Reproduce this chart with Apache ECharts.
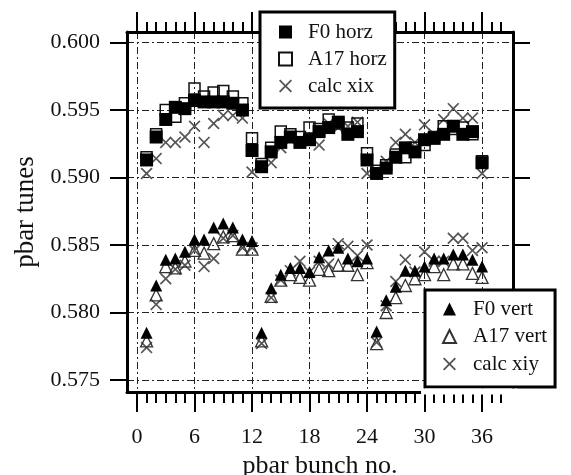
<!DOCTYPE html>
<html><head><meta charset="utf-8">
<script src="https://cdn.jsdelivr.net/npm/echarts@6/dist/echarts.min.js"></script>
<style>html,body{margin:0;padding:0;background:#fff}#c{width:571px;height:475px}</style>
</head><body><div id="c"></div>
<script>
const bunches = [1,2,3,4,5,6,7,8,9,10,11,12,13,14,15,16,17,18,19,20,21,22,23,24,25,26,27,28,29,30,31,32,33,34,35,36];
const f0Horz = [0.5913,0.5930,0.5943,0.5952,0.5951,0.5957,0.5956,0.5956,0.5956,0.5955,0.5950,0.5920,
                0.5908,0.5919,0.5926,0.5930,0.5926,0.5928,0.5934,0.5937,0.5941,0.5932,0.5934,0.5913,
                0.5903,0.5907,0.5915,0.5922,0.5919,0.5928,0.5929,0.5932,0.5938,0.5932,0.5934,0.5911];
const a17Horz = [0.5915,0.5932,0.5950,0.5945,0.5955,0.5966,0.5960,0.5963,0.5964,0.5960,0.5955,0.5929,
                 0.5910,0.5922,0.5934,0.5932,0.5930,0.5937,0.5936,0.5943,0.5940,0.5937,0.5940,0.5918,
                 0.5905,0.5909,0.5917,0.5915,0.5922,0.5924,0.5930,0.5938,0.5936,0.5937,0.5932,0.5912];
const calcXix = [0.5903,0.5914,0.5926,0.5926,0.5930,0.5938,0.5926,0.5940,0.5946,0.5946,0.5944,0.5904,
                 0.5908,0.5911,0.5922,0.5928,0.5927,0.5930,0.5924,0.5940,0.5937,0.5938,0.5941,0.5903,
                 0.5905,0.5912,0.5926,0.5932,0.5926,0.5939,0.5932,0.5943,0.5951,0.5944,0.5944,0.5903];
const f0Vert = [0.5785,0.5820,0.5839,0.5840,0.5845,0.5854,0.5854,0.5863,0.5866,0.5863,0.5854,0.5853,
                0.5785,0.5818,0.5828,0.5833,0.5833,0.5830,0.5841,0.5846,0.5848,0.5840,0.5838,0.5840,
                0.5786,0.5809,0.5819,0.5831,0.5831,0.5834,0.5840,0.5840,0.5843,0.5843,0.5839,0.5834];
const a17Vert = [0.5779,0.5813,0.5834,0.5833,0.5838,0.5846,0.5844,0.5851,0.5856,0.5857,0.5847,0.5847,
                 0.5779,0.5812,0.5824,0.5828,0.5826,0.5824,0.5832,0.5831,0.5835,0.5835,0.5828,0.5837,
                 0.5777,0.5800,0.5811,0.5820,0.5825,0.5828,0.5834,0.5828,0.5836,0.5836,0.5829,0.5826];
const calcXiy = [0.5774,0.5806,0.5825,0.5832,0.5835,0.5846,0.5834,0.5840,0.5855,0.5857,0.5848,0.5848,
                 0.5777,0.5811,0.5824,0.5831,0.5838,0.5830,0.5838,0.5836,0.5851,0.5849,0.5842,0.5850,
                 0.5778,0.5805,0.5823,0.5839,0.5830,0.5845,0.5838,0.5838,0.5855,0.5855,0.5846,0.5848];
const xMajorTicks = [0,6,12,18,24,30,36];
const xMinorTicks = [0,1,2,3,4,5,6,7,8,9,10,11,12,13,14,15,16,17,18,19,20,21,22,23,24,25,26,27,28,29,30,31,32,33,34,35,36,37,38];
const yTicks = [0.575,0.580,0.585,0.590,0.595,0.600];
const xRange = [-1.043, 39.23];
const yRange = [0.57411, 0.60078];

const FONT = '"Liberation Serif", "Times New Roman", serif';
const INK = '#111';
const XPATH = 'path://M1,0 L5,4 L9,0 L10,1 L6,5 L10,9 L9,10 L5,6 L1,10 L0,9 L4,5 L0,1 Z';
const pairs = (ys) => bunches.map((b, i) => [b, ys[i]]);
const gridDash = { color: '#222', width: 1, type: [7, 3, 2, 3] };

function xAx(pos, ticks, len, main) {
  return {
    type: 'value', position: pos, min: xRange[0], max: xRange[1],
    axisLine: { show: main, onZero: false, lineStyle: { color: '#000', width: 3 } },
    axisTick: { show: true, inside: false, customValues: ticks, length: len, lineStyle: { color: '#000', width: 2 } },
    axisLabel: pos === 'bottom' && main ? { show: true, customValues: xMajorTicks, margin: 34, fontSize: 22, fontFamily: FONT, color: INK } : { show: false },
    splitLine: (pos === 'bottom' && main) ? { show: true, lineStyle: gridDash } : { show: false },
    name: (pos === 'bottom' && main) ? 'pbar bunch no.' : '',
    nameLocation: 'middle', nameGap: 45,
    nameTextStyle: { fontSize: 26, fontFamily: FONT, color: INK }
  };
}

const chart = echarts.init(document.getElementById('c'), null, { renderer: 'canvas' });
chart.setOption({
  animation: false,
  backgroundColor: '#fff',
  grid: { left: 127, right: 58, top: 32, bottom: 83, containLabel: false, outerBoundsMode: 'none' },
  xAxis: [
    xAx('bottom', xMajorTicks, 20, true),
    xAx('bottom', xMinorTicks, 11, false),
    xAx('top', xMajorTicks, 20, true),
    xAx('top', xMinorTicks, 10, false)
  ],
  yAxis: [
    {
      type: 'value', position: 'left', min: yRange[0], max: yRange[1],
      axisLine: { show: true, onZero: false, lineStyle: { color: '#000', width: 3 } },
      axisTick: { show: true, customValues: yTicks, length: 17, lineStyle: { color: '#000', width: 2 } },
      axisLabel: { customValues: yTicks, margin: 27, fontSize: 22, fontFamily: FONT, color: INK, formatter: v => v.toFixed(3) },
      splitLine: { show: true, lineStyle: gridDash },
      name: 'pbar tunes', nameLocation: 'middle', nameGap: 81,
      nameTextStyle: { fontSize: 27, fontFamily: FONT, color: INK }
    },
    {
      type: 'value', position: 'right', min: yRange[0], max: yRange[1],
      axisLine: { show: true, onZero: false, lineStyle: { color: '#000', width: 3 } },
      axisTick: { show: true, customValues: yTicks, length: 17, lineStyle: { color: '#000', width: 2 } },
      axisLabel: { show: false },
      splitLine: { show: false }
    }
  ],
  legend: [
    {
      data: ['F0 horz', 'A17 horz', 'calc xix'],
      orient: 'vertical', left: 260, top: 12,
      padding: [9.5, 8, 11.5, 18],
      itemWidth: 13, itemHeight: 13, itemGap: 6,
      backgroundColor: '#fff', borderColor: '#000', borderWidth: 3, borderRadius: 0,
      selectedMode: false,
      textStyle: { fontFamily: FONT, fontSize: 21, lineHeight: 21, color: INK, padding: [0, 0, 0, 11] }
    },
    {
      data: ['F0 vert', 'A17 vert', 'calc xiy'],
      orient: 'vertical', left: 425, top: 290,
      padding: [8.5, 8, 12.5, 17],
      itemWidth: 13, itemHeight: 13, itemGap: 6.5,
      backgroundColor: '#fff', borderColor: '#000', borderWidth: 3, borderRadius: 0,
      selectedMode: false,
      textStyle: { fontFamily: FONT, fontSize: 21, lineHeight: 21, color: INK, padding: [0, 0, 0, 12] }
    }
  ],
  graphic: [
    { type: 'rect', shape: { x: 421, y: 388.5, width: 96, height: 6 }, style: { fill: '#fff' }, z: 100 }
  ],
  series: [
    { name: 'calc xix', type: 'scatter', data: pairs(calcXix), symbol: XPATH, symbolSize: 12,
      itemStyle: { color: '#555', opacity: 1 }, z: 3 },
    { name: 'calc xiy', type: 'scatter', data: pairs(calcXiy), symbol: XPATH, symbolSize: 12,
      itemStyle: { color: '#555', opacity: 1 }, z: 3 },
    { name: 'A17 horz', type: 'scatter', data: pairs(a17Horz), symbol: 'rect', symbolSize: 11,
      itemStyle: { color: 'rgba(255,255,255,0)', borderColor: '#111', borderWidth: 1.5, opacity: 1 }, z: 4 },
    { name: 'A17 vert', type: 'scatter', data: pairs(a17Vert), symbol: 'triangle', symbolSize: 12,
      itemStyle: { color: 'rgba(255,255,255,0)', borderColor: '#333', borderWidth: 1.3, opacity: 1 }, z: 4 },
    { name: 'F0 horz', type: 'scatter', data: pairs(f0Horz), symbol: 'rect', symbolSize: 13,
      itemStyle: { color: '#000', opacity: 1 }, z: 5 },
    { name: 'F0 vert', type: 'scatter', data: pairs(f0Vert), symbol: 'triangle', symbolSize: 12,
      itemStyle: { color: '#000', opacity: 1 }, z: 5 }
  ]
});
</script>
</body></html>
